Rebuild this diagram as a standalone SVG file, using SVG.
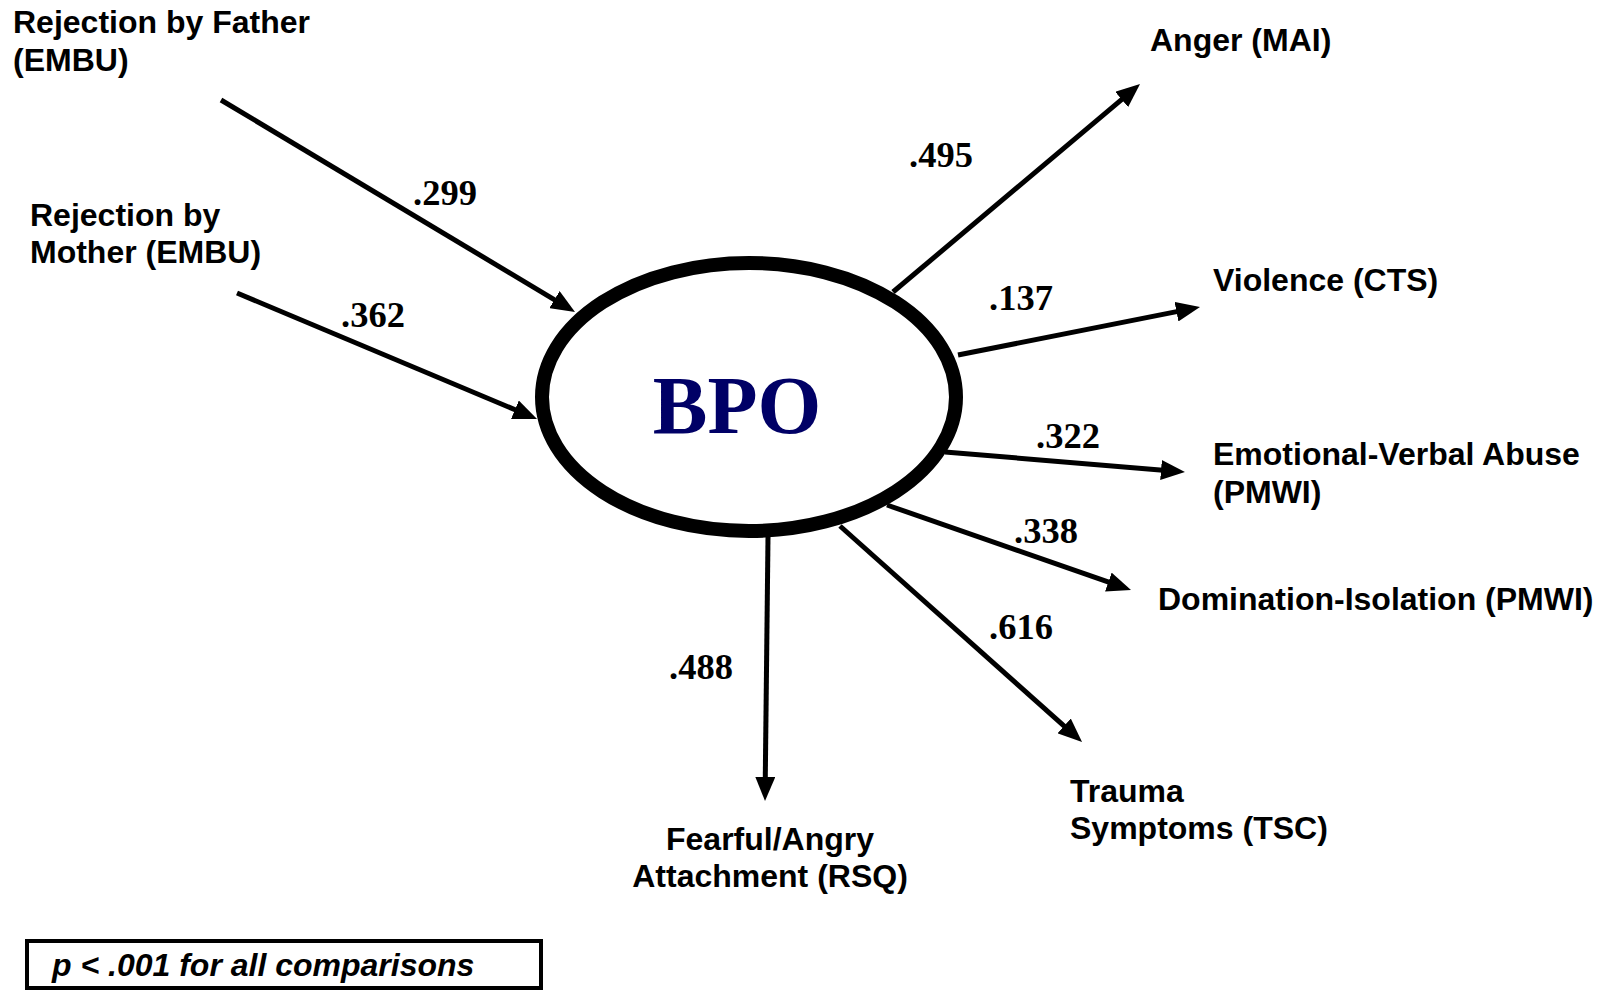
<svg xmlns="http://www.w3.org/2000/svg" width="1601" height="992" viewBox="0 0 1601 992">
<defs>
<marker id="ah" markerUnits="userSpaceOnUse" markerWidth="24" markerHeight="20" refX="8" refY="10" orient="auto" viewBox="0 0 24 20">
<path d="M0,0 L24,10 L0,20 z" fill="#000"/>
</marker>
<style>
.lbl{font-family:"Liberation Sans",Arial,sans-serif;font-weight:bold;font-size:32px;fill:#000}
.num{font-family:"Liberation Serif","Times New Roman",serif;font-weight:bold;font-size:36.5px;fill:#000}
.edge{stroke:#000;stroke-width:5;fill:none;marker-end:url(#ah)}
</style>
</defs>
<rect width="1601" height="992" fill="#fff"/>
<g id="connectors">
<line class="edge" x1="221" y1="100" x2="561.3" y2="303.8"/>
<line class="edge" x1="237" y1="293" x2="522.3" y2="412.8"/>
<line class="edge" x1="893" y1="292" x2="1127.8" y2="94.3"/>
<line class="edge" x1="958" y1="355" x2="1184.3" y2="310.1"/>
<line class="edge" x1="945" y1="452" x2="1169" y2="470.7"/>
<line class="edge" x1="887" y1="505" x2="1115.9" y2="584.7"/>
<line class="edge" x1="840" y1="526" x2="1070.1" y2="731.3"/>
<line class="edge" x1="768" y1="537" x2="765.2" y2="785"/>
<text class="num" x="413" y="205">.299</text>
<text class="num" x="341" y="327">.362</text>
<text class="num" x="909" y="167">.495</text>
<text class="num" x="989" y="310">.137</text>
<text class="num" x="1036" y="448">.322</text>
<text class="num" x="1014" y="543">.338</text>
<text class="num" x="989" y="639">.616</text>
<text class="num" x="669" y="679">.488</text>
</g>
<g id="node-bpo">
<ellipse cx="749" cy="397" rx="207" ry="134" fill="#fff" stroke="#000" stroke-width="14"/>
<text x="737" y="433" text-anchor="middle" font-family="Liberation Serif, Times New Roman, serif" font-weight="bold" font-size="82" fill="#000066">BPO</text>
</g>
<g id="node-father">
<text class="lbl" x="13" y="33">Rejection by Father</text>
<text class="lbl" x="13" y="71">(EMBU)</text>
</g>
<g id="node-mother">
<text class="lbl" x="30" y="226">Rejection by</text>
<text class="lbl" x="30" y="263">Mother (EMBU)</text>
</g>
<g id="node-anger">
<text class="lbl" x="1150" y="51">Anger (MAI)</text>
</g>
<g id="node-violence">
<text class="lbl" x="1213" y="291">Violence (CTS)</text>
</g>
<g id="node-emotional">
<text class="lbl" x="1213" y="465">Emotional-Verbal Abuse</text>
<text class="lbl" x="1213" y="503">(PMWI)</text>
</g>
<g id="node-domination">
<text class="lbl" x="1158" y="610">Domination-Isolation (PMWI)</text>
</g>
<g id="node-trauma">
<text class="lbl" x="1070" y="802">Trauma</text>
<text class="lbl" x="1070" y="839">Symptoms (TSC)</text>
</g>
<g id="node-fearful">
<text class="lbl" x="770" y="850" text-anchor="middle">Fearful/Angry</text>
<text class="lbl" x="770" y="887" text-anchor="middle">Attachment (RSQ)</text>
</g>
<g id="note">
<rect x="27" y="941" width="514" height="47" fill="#fff" stroke="#000" stroke-width="4"/>
<text class="lbl" x="52" y="976" font-style="italic">p &lt; .001 for all comparisons</text>
</g>
</svg>
